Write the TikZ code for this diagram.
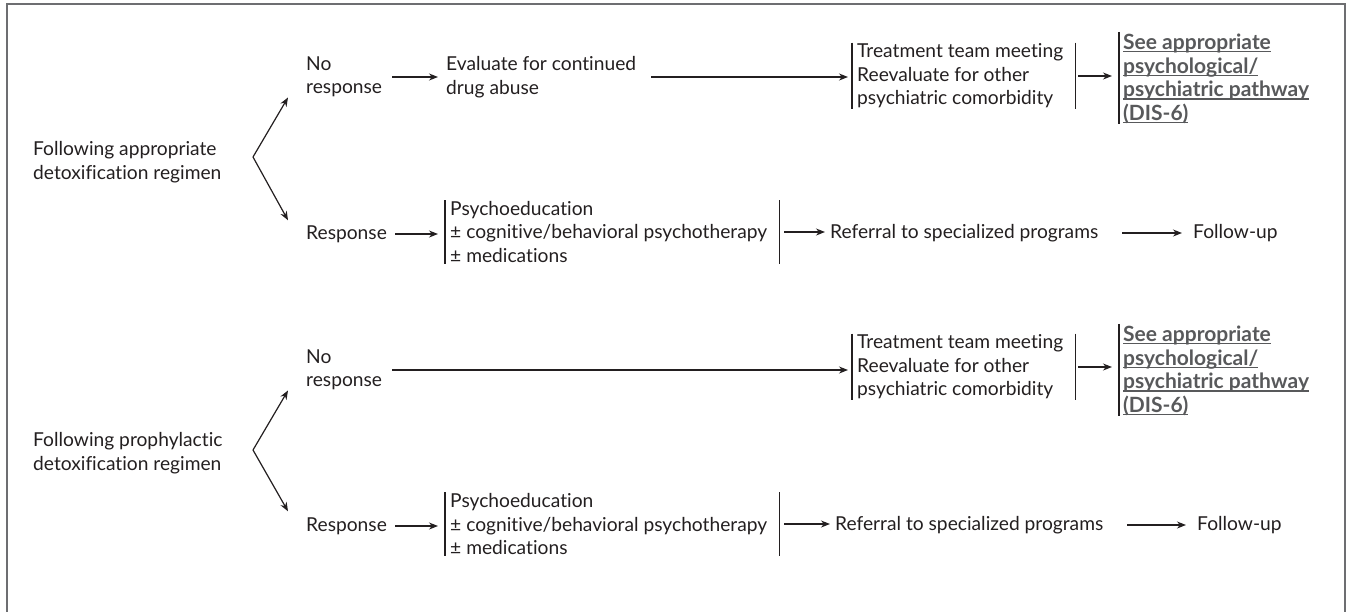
\documentclass[tikz,border=0pt]{standalone}
\usepackage{fontspec}
\setmainfont{Lato}[Ligatures=NoCommon]
\usepackage{xcolor}
\usepackage{tikz}
\usetikzlibrary{arrows.meta}
\definecolor{inkx}{HTML}{231F20}
\definecolor{linkx}{HTML}{58595B}
\definecolor{framex}{HTML}{6D6E71}
\newcommand\ulink[1]{\setbox0\hbox{#1}\rlap{\rule[-2.8pt]{\wd0}{1.3pt}}\box0}
\tikzset{
  ar/.style={-{Stealth[length=9pt,width=7pt]},line width=1.2pt,inkx},
  bar/.style={line width=1.2pt,inkx},
  txt/.style={anchor=west,align=left,inner sep=0pt,text=inkx,font=\fontsize{19.2}{23.5}\selectfont},
  lnk/.style={txt,text=linkx,font=\fontsize{21}{23.7}\selectfont\bfseries}
}

\begin{document}
\begin{tikzpicture}[x=1pt,y=-1pt]
\useasboundingbox (0,0) rectangle (1347,611);
\draw[framex,line width=1.8pt] (7,615) -- (7,4) -- (1345,4) -- (1345,615);
% after appropriate detoxification
\node[txt] (fa) at (33,162) {Following appropriate\\detoxification regimen};
\coordinate (v1) at (253,157);
\node[txt] (nr1) at (306,77) {No\\response};
\node[txt] (r1) at (306,234) {Response};
\node[txt] (ev1) at (446,77) {Evaluate for continued\\drug abuse};
\node[txt] (tm1) at (857,76) {Treatment team meeting\\Reevaluate for other\\psychiatric comorbidity};
\node[lnk] (sa1) at (1123,79) {\ulink{See appropriate}\\\ulink{psychological/}\\\ulink{psychiatric pathway}\\\ulink{(DIS-6)}};
\node[txt] (pe1) at (450,232) {Psychoeducation\\± cognitive/behavioral psychotherapy\\± medications};
\node[txt] (rf1) at (830,233) {Referral to specialized programs};
\node[txt] (fu1) at (1193,233) {Follow-up};
\draw[ar] (v1) -- ([xshift=-18pt]nr1.south west);
\draw[ar] (v1) -- ([xshift=-18pt,yshift=5pt]r1.north west);
\draw[ar] ([xshift=10pt]nr1.east) -- ([xshift=-8pt]nr1.east -| ev1.west);
\draw[ar] ([xshift=15pt]ev1.east) -- ([xshift=-9pt]ev1.east -| tm1.west);
\draw[ar] ([xshift=15pt]tm1.east) -- ([xshift=-11pt]tm1.east -| sa1.west);
\draw[ar] ([xshift=8pt]r1.east) -- ([xshift=-12pt]r1.east -| pe1.west);
\draw[ar] ([xshift=17pt]pe1.east) -- ([xshift=-5pt]pe1.east -| rf1.west);
\draw[ar] ([xshift=24pt]rf1.east) -- ([xshift=-11pt]fu1.west);
% after prophylactic detoxification
\node[txt] (fp) at (33,453) {Following prophylactic\\detoxification regimen};
\coordinate (v2) at (253,450);
\node[txt] (nr2) at (306,370) {No\\response};
\node[txt] (r2) at (306,526) {Response};
\node[txt] (tm2) at (857,367) {Treatment team meeting\\Reevaluate for other\\psychiatric comorbidity};
\node[lnk] (sa2) at (1123,371) {\ulink{See appropriate}\\\ulink{psychological/}\\\ulink{psychiatric pathway}\\\ulink{(DIS-6)}};
\node[txt] (pe2) at (450,524) {Psychoeducation\\± cognitive/behavioral psychotherapy\\± medications};
\node[txt] (rf2) at (835,525) {Referral to specialized programs};
\node[txt] (fu2) at (1197,525) {Follow-up};
\draw[ar] (v2) -- ([xshift=-18pt]nr2.south west);
\draw[ar] (v2) -- ([xshift=-18pt,yshift=6pt]r2.north west);
\draw[ar] ([xshift=10pt]nr2.east) -- ([xshift=-9pt]nr2.east -| tm2.west);
\draw[ar] ([xshift=15pt]tm2.east) -- ([xshift=-11pt]tm2.east -| sa2.west);
\draw[ar] ([xshift=8pt]r2.east) -- ([xshift=-12pt]r2.east -| pe2.west);
\draw[ar] ([xshift=17pt]pe2.east) -- ([xshift=-5pt]pe2.east -| rf2.west);
\draw[ar] ([xshift=24pt]rf2.east) -- ([xshift=-11pt]fu2.west);
% side bars
\foreach \n in {tm1,pe1,tm2,pe2}{
  \draw[bar] ([xshift=-5pt,yshift=1pt]\n.north west) -- ([xshift=-5pt,yshift=-1pt]\n.south west);
  \draw[bar] ([xshift=12pt,yshift=1pt]\n.north east) -- ([xshift=12pt,yshift=-1pt]\n.south east);
}
\foreach \n in {sa1,sa2}
  \draw[bar] ([xshift=-4pt,yshift=2pt]\n.north west) -- ([xshift=-4pt]\n.south west);
\end{tikzpicture}
\end{document}
